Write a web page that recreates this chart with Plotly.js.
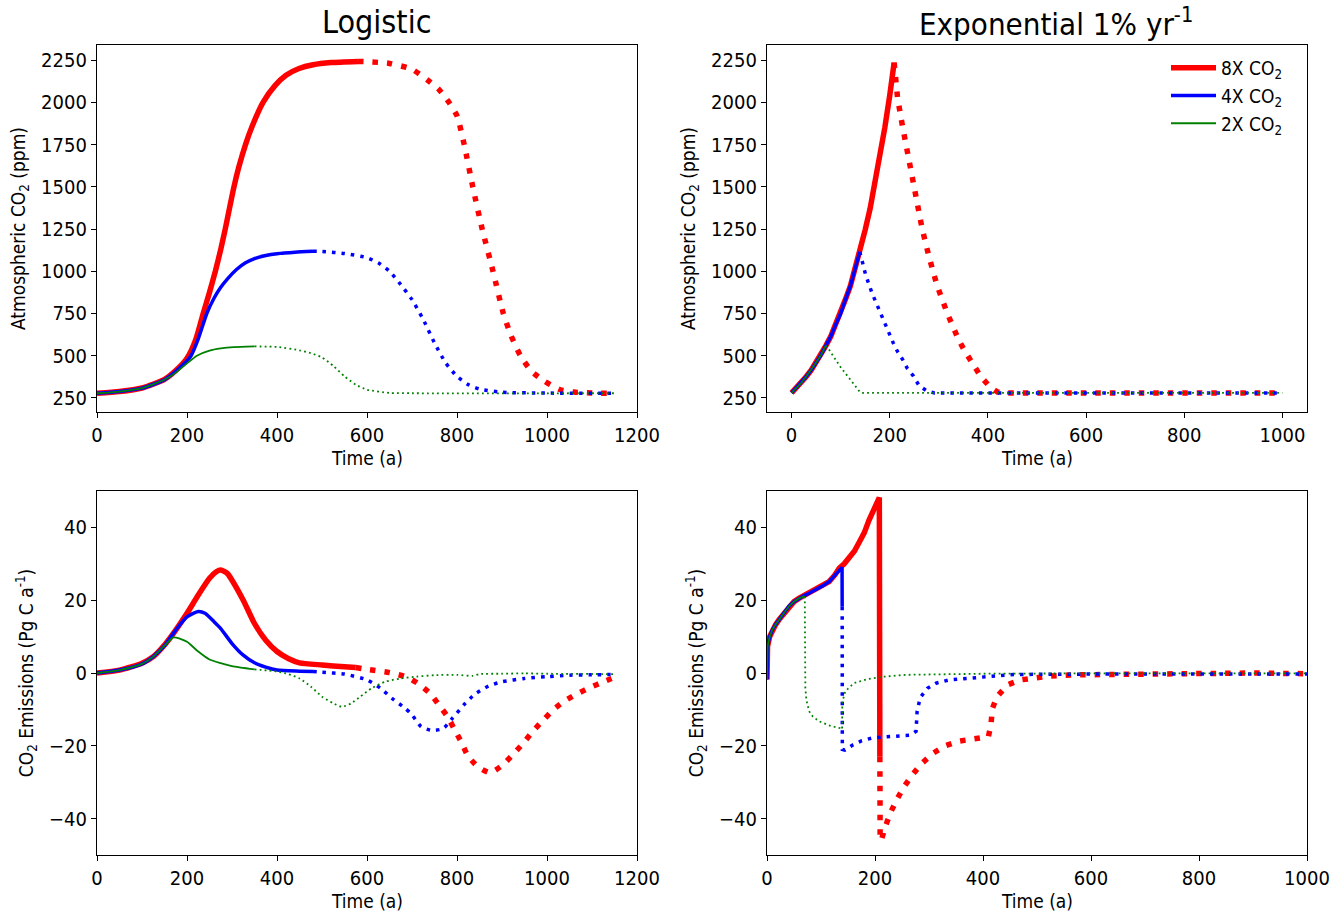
<!DOCTYPE html>
<html>
<head>
<meta charset="utf-8">
<script src="https://cdn.plot.ly/plotly-3.0.1.min.js"></script>
<style>html,body{margin:0;padding:0;background:#fff;}#plot{width:1344px;height:915px;}</style>
</head>
<body>
<div id="plot"></div>
<script>
// ---------- Logistic: atmospheric CO2 (ppm) ----------
const logCO2Time8x = [0,50,100,150,175,200,220,236,250,263,275,285,295,304,315,330,345,369,396,420,449,480,520,580,600,650,700,735,760,782,800,816,835,856,880,903,920,941,965,994,1028,1060,1100,1150];
const logCO2Val8x  = [278,288,309,360,412,485,600,750,875,1000,1130,1250,1380,1495,1615,1750,1860,2000,2100,2160,2200,2222,2235,2242,2240,2230,2195,2130,2075,2000,1920,1750,1500,1250,1000,750,620,500,410,350,300,285,279,277];
const logCO2SolidEnd8x = 580;

const logCO2Time4x = [0,50,100,150,175,200,209,225,244,260,275,290,310,330,350,375,400,440,480,500,550,600,625,650,675,700,725,750,775,800,825,850,900,1000,1150];
const logCO2Val4x  = [278,288,308,358,408,470,500,600,750,840,905,955,1010,1050,1075,1093,1104,1113,1118,1117,1105,1080,1050,1000,921,832,714,576,457,378,329,303,284,279,278];
const logCO2SolidEnd4x = 480;

const logCO2Time2x = [0,50,100,150,175,200,222,250,275,304,350,400,450,475,500,525,550,575,600,650,700,1150];
const logCO2Val2x  = [278,288,308,358,400,455,500,530,543,551,555,552,532,515,490,440,378,329,299,280,278,278];
const logCO2SolidEnd2x = 350;

// ---------- Exponential 1% per year: atmospheric CO2 (ppm) ----------
const expCO2Time8x = [0,10,20,30,40,50,60,70,80,90,100,110,120,130,139,150,160,170,180,190,200,209,216,226,238,253,266,280,296,317,340,354,370,386,405,420,431,1000];
const expCO2Val8x  = [280,310,340,377,415,460,505,560,615,685,750,835,915,1020,1115,1245,1370,1520,1670,1850,2040,2235,2025,1858,1682,1428,1252,1086,919,753,596,522,450,375,313,285,280,280];
const expCO2SolidEnd8x = 209;

const expCO2Time4x = [0,10,20,30,40,50,60,70,80,90,100,110,120,130,139,143,151,164,177,187,199,207,216,226,236,248,260,275,291,1000];
const expCO2Val4x  = [280,310,340,377,415,460,505,560,615,685,750,835,915,1020,1115,1066,978,870,782,704,635,577,524,479,424,381,322,293,280,280];
const expCO2SolidEnd4x = 139;

const expCO2Time2x = [0,10,20,30,40,50,60,70,76,98,120,140,145,1000];
const expCO2Val2x  = [280,310,340,377,415,460,505,560,538,440,361,283,280,280];
const expCO2SolidEnd2x = 70;

// ---------- Logistic: CO2 emissions (Pg C a-1) ----------
const logEmTime8x = [0,50,100,125,150,175,200,225,250,265,275,290,300,325,350,375,400,425,450,500,550,575,600,650,690,715,740,760,779,794,810,824,846,874,902,925,947,968,989,1014,1039,1066,1097,1126,1150];
const logEmVal8x  = [0,0.8,2.7,4.5,7.7,11.8,16.4,21.4,26,27.8,28.3,27.3,25.5,20,13.6,9,5.9,4,2.8,2.2,1.7,1.5,1.0,0.1,-1.2,-3.0,-5.6,-8.8,-12,-15.4,-19.1,-22.7,-25.7,-27.4,-25.2,-22.3,-19.3,-16.1,-13.3,-10.1,-7.7,-5.8,-3.9,-2.4,-1.2];
const logEmSolidEnd8x = 575;

const logEmTime4x = [0,50,100,125,150,175,200,225,240,260,275,300,325,350,375,400,450,480,500,550,600,630,660,685,700,720,745,770,790,815,840,870,900,950,1000,1050,1100,1150];
const logEmVal4x  = [0,0.8,2.5,4.5,7.5,11.8,15.4,16.9,16.4,14.1,12.2,8.1,4.9,2.8,1.6,0.8,0.5,0.4,0.2,-0.3,-1.9,-4.2,-7.4,-9.7,-11.5,-14.7,-15.8,-15.2,-12.4,-8.8,-5.8,-3.6,-2.4,-1.5,-1.0,-0.6,-0.5,-0.4];
const logEmSolidEnd4x = 480;

const logEmTime2x = [0,50,100,125,150,170,185,200,225,250,275,300,350,400,425,450,475,500,525,545,565,585,610,640,675,710,750,800,835,850,900,950,1000,1150];
const logEmVal2x  = [0,0.8,2.5,4.5,7.5,9.8,9.4,8.6,5.9,3.7,2.7,1.9,1.0,0.4,-0.3,-1.5,-3.7,-6.5,-8.3,-9.3,-8.3,-6.5,-4.2,-2.4,-1.5,-1.0,-0.6,-0.5,-0.8,-0.3,-0.2,-0.1,-0.2,-0.3];
const logEmSolidEnd2x = 350;

// ---------- Exponential 1% per year: CO2 emissions (Pg C a-1) ----------
const expEmTime8x = [0,1,5,10,16,22,30,41,50,59,68,78,87,96,105,115,125,134,143,152,162,171,180,189,200,208,209,209.5,212,220,229.5,241.8,254,269.6,287,308,330,356,383,410,415,417,426,445,469,497,525,577,617,700,824,900,1000];
const expEmVal8x  = [-1.8,7.3,10,11.9,13.3,14.6,16.2,18.4,19.6,20.5,21.2,21.9,22.6,23.3,24.1,25.1,26.8,28.8,30.0,31.5,33.5,36,38.5,42,45.2,48.2,-23,-46,-45.8,-41.8,-38.1,-34.4,-31.2,-27.9,-24.8,-22,-20,-18.7,-18.1,-17.5,-14,-9.9,-6.5,-3.3,-1.9,-1.2,-0.8,-0.5,-0.4,-0.2,0.1,0,-0.2];
const expEmSolidEndIdx8x = 26;

const expEmTime4x = [0,1,5,10,16,22,30,41,50,59,68,78,87,96,105,115,125,134,139,139.2,139.5,144,159.5,175.6,193.6,212,230.6,248,265,276,277,278,282,285,297,313,337,377,417,457,600,1000];
const expEmVal4x  = [-1.8,7.3,10,11.9,13.3,14.6,16.2,18.4,19.6,20.5,21.2,21.9,22.6,23.3,24.1,25.1,26.8,28.4,29.0,18.2,-21,-21.2,-19.7,-18.6,-17.9,-17.6,-17.5,-17.4,-17.1,-16,-13.3,-10.5,-7.9,-6.5,-4.2,-2.8,-1.9,-1.4,-0.8,-0.4,-0.3,-0.3];
const expEmSolidEndIdx4x = 19;

const expEmTime2x = [0,1,5,10,16,22,30,41,50,59,68,70,70.5,71,73,78,85,97,117,137,139,139.5,145,161,185,217,257,297,400,600,1000];
const expEmVal2x  = [-1.8,7.3,10,11.9,13.3,14.6,16.2,18.4,19.6,20.5,21.0,21,0,-4,-7.5,-10.5,-12,-13.3,-14.5,-15.2,-15.5,-8,-5,-2.8,-1.7,-1.0,-0.5,-0.4,-0.2,-0.1,-0.1];
const expEmSolidEndIdx2x = 11;

const legendNames = ['8X CO<sub>2</sub>', '4X CO<sub>2</sub>', '2X CO<sub>2</sub>'];
const panelTitles = ['Logistic', 'Exponential 1% yr<sup>-1</sup>'];
const xAxisLabel = 'Time (a)';

// ---------- build traces ----------
const FONT = 'DejaVu Sans Condensed, DejaVu Sans, sans-serif';
const styles = [
  {color: '#ff0000', width: 5.5, dot: '5.5px,9px'},
  {color: '#0000ff', width: 3.5, dot: '3.5px,6px'},
  {color: '#008000', width: 1.8, dot: '1.8px,3.2px'}
];

function splitByTime(t, v, end) {
  const s = {x: [], y: []}, d = {x: [], y: []};
  for (let i = 0; i < t.length; i++) {
    if (t[i] <= end) { s.x.push(t[i]); s.y.push(v[i]); }
    if (t[i] >= end) { d.x.push(t[i]); d.y.push(v[i]); }
  }
  return [s, d];
}
function splitByIndex(t, v, idx) {
  return [{x: t.slice(0, idx + 1), y: v.slice(0, idx + 1)}, {x: t.slice(idx), y: v.slice(idx)}];
}

const traces = [];
function addPanel(segs, xa, ya, legend, shape) {
  segs.forEach((pair, k) => {
    const st = styles[k];
    traces.push({x: pair[0].x, y: pair[0].y, xaxis: xa, yaxis: ya, type: 'scatter', mode: 'lines',
      name: legendNames[k], showlegend: legend, hoverinfo: 'skip',
      line: {color: st.color, width: st.width, shape: shape, smoothing: 0.6}});
    traces.push({x: pair[1].x, y: pair[1].y, xaxis: xa, yaxis: ya, type: 'scatter', mode: 'lines',
      name: legendNames[k], showlegend: false, hoverinfo: 'skip',
      line: {color: st.color, width: st.width, dash: st.dot, shape: shape, smoothing: 0.6}});
  });
}

addPanel([
  splitByTime(logCO2Time8x, logCO2Val8x, logCO2SolidEnd8x),
  splitByTime(logCO2Time4x, logCO2Val4x, logCO2SolidEnd4x),
  splitByTime(logCO2Time2x, logCO2Val2x, logCO2SolidEnd2x)
], 'x', 'y', false, 'spline');

addPanel([
  splitByTime(expCO2Time8x, expCO2Val8x, expCO2SolidEnd8x),
  splitByTime(expCO2Time4x, expCO2Val4x, expCO2SolidEnd4x),
  splitByTime(expCO2Time2x, expCO2Val2x, expCO2SolidEnd2x)
], 'x2', 'y2', true, 'linear');

addPanel([
  splitByTime(logEmTime8x, logEmVal8x, logEmSolidEnd8x),
  splitByTime(logEmTime4x, logEmVal4x, logEmSolidEnd4x),
  splitByTime(logEmTime2x, logEmVal2x, logEmSolidEnd2x)
], 'x3', 'y3', false, 'spline');

addPanel([
  splitByIndex(expEmTime8x, expEmVal8x, expEmSolidEndIdx8x),
  splitByIndex(expEmTime4x, expEmVal4x, expEmSolidEndIdx4x),
  splitByIndex(expEmTime2x, expEmVal2x, expEmSolidEndIdx2x)
], 'x4', 'y4', false, 'linear');

// ---------- layout ----------
const W = 1344, H = 915;
function ax(extra) {
  return Object.assign({
    showline: true, mirror: true, linecolor: '#000', linewidth: 1.2,
    ticks: 'outside', ticklen: 5, tickwidth: 1.2, tickcolor: '#000',
    showgrid: false, zeroline: false, fixedrange: true,
    tickfont: {family: FONT, size: 20, color: '#000'}
  }, extra);
}
const yTitleCO2 = {text: 'Atmospheric CO<sub>2</sub> (ppm)', font: {family: FONT, size: 19, color: '#000'}, standoff: 10};
const yTitleEm = {text: 'CO<sub>2</sub> Emissions (Pg C a<sup>-1</sup>)', font: {family: FONT, size: 19, color: '#000'}, standoff: 10};

const dLeft = [97 / W, 637 / W], dRight = [767 / W, 1307 / W];
const dTop = [1 - 412 / H, 1 - 45 / H], dBot = [1 - 855 / H, 1 - 491 / H];

function note(text, px, py, size) {
  return {text: text, x: px / W, y: 1 - py / H, xref: 'paper', yref: 'paper', xanchor: 'center', yanchor: 'middle',
          showarrow: false, font: {family: FONT, size: size, color: '#000'}};
}

const layout = {
  width: W, height: H,
  margin: {l: 0, r: 0, t: 0, b: 0},
  paper_bgcolor: '#fff', plot_bgcolor: '#fff',
  font: {family: FONT, color: '#000'},
  showlegend: true,
  legend: {x: 1166 / W, y: 1 - 49 / H, xanchor: 'left', yanchor: 'top', bgcolor: 'rgba(0,0,0,0)',
           itemwidth: 45, font: {family: FONT, size: 19, color: '#000'}, tracegroupgap: 0},
  xaxis:  ax({domain: dLeft,  anchor: 'y',  range: [0, 1200], dtick: 200, tick0: 0}),
  yaxis:  ax({domain: dTop,   anchor: 'x',  range: [167, 2339], dtick: 250, tick0: 250, title: yTitleCO2}),
  xaxis2: ax({domain: dRight, anchor: 'y2', range: [-50, 1050], dtick: 200, tick0: 0}),
  yaxis2: ax({domain: dTop,   anchor: 'x2', range: [167, 2339], dtick: 250, tick0: 250, title: yTitleCO2}),
  xaxis3: ax({domain: dLeft,  anchor: 'y3', range: [0, 1200], dtick: 200, tick0: 0}),
  yaxis3: ax({domain: dBot,   anchor: 'x3', range: [-50, 50], dtick: 20, tick0: 0, title: yTitleEm}),
  xaxis4: ax({domain: dRight, anchor: 'y4', range: [0, 1000], dtick: 200, tick0: 0}),
  yaxis4: ax({domain: dBot,   anchor: 'x4', range: [-50, 50], dtick: 20, tick0: 0, title: yTitleEm}),
  annotations: [
    note(panelTitles[0], 376, 22, 32),
    note(panelTitles[1], 1056, 22, 31),
    note(xAxisLabel, 367, 458, 19),
    note(xAxisLabel, 1037, 458, 19),
    note(xAxisLabel, 367, 901, 19),
    note(xAxisLabel, 1037, 901, 19)
  ]
};

Plotly.newPlot('plot', traces, layout, {displayModeBar: false});
</script>
</body>
</html>
